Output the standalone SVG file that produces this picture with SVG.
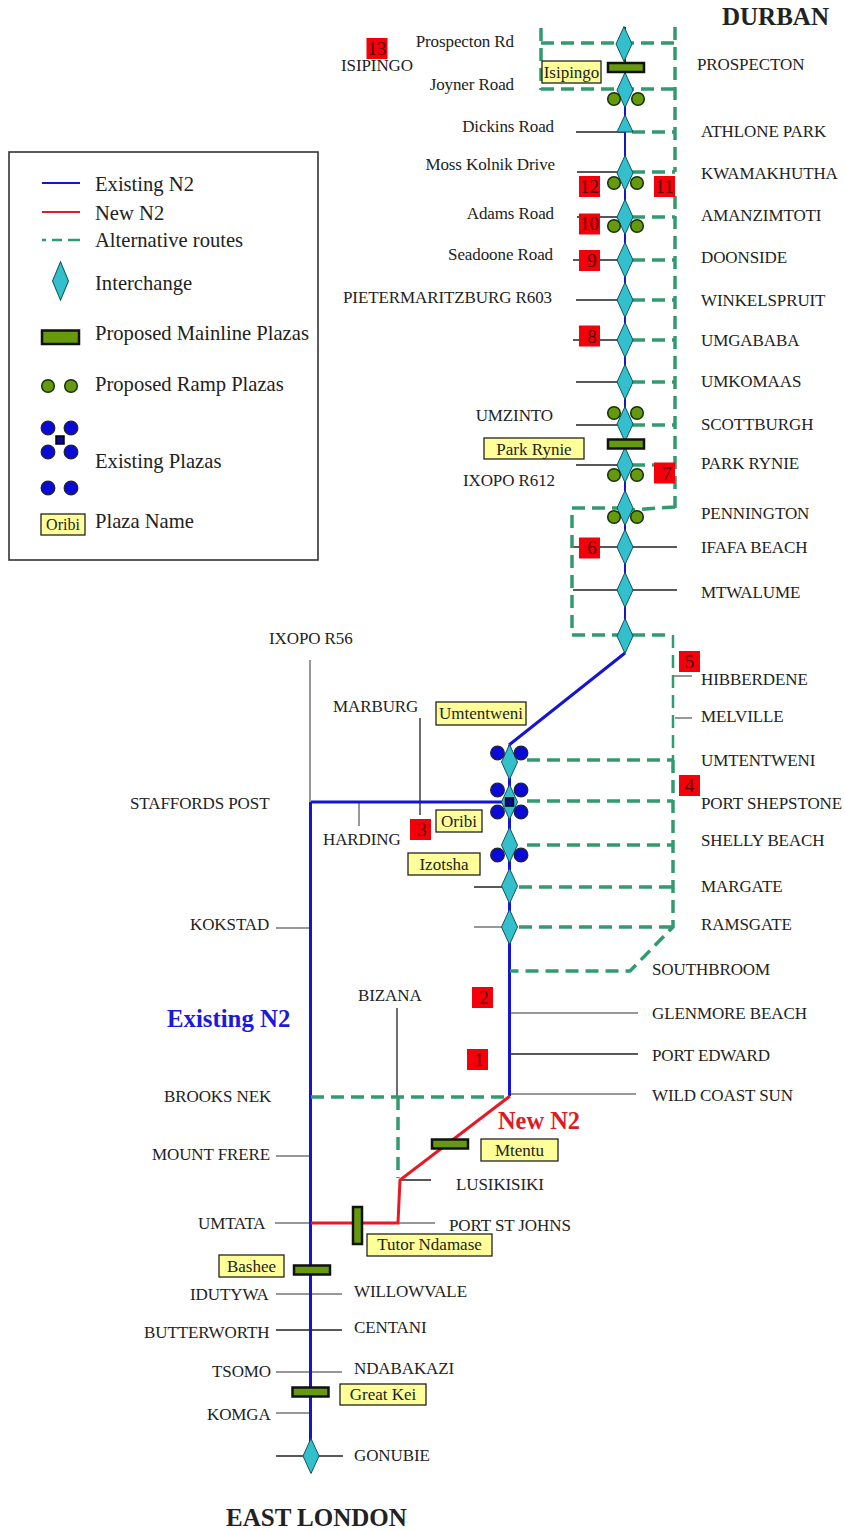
<svg xmlns="http://www.w3.org/2000/svg" width="845" height="1531" viewBox="0 0 845 1531">
<style>
text{font-family:"Liberation Serif","Times New Roman",serif;font-size:17px;fill:#222;letter-spacing:-.1px}
.e{text-anchor:end}
.l{font-size:20.6px;letter-spacing:0}
.n{font-size:17px;fill:#222;text-anchor:middle;letter-spacing:0}
.num{font-size:19px;fill:#500;text-anchor:middle;letter-spacing:0}
.b{font-weight:bold;letter-spacing:0}
.blue{fill:none;stroke:#1515d0;stroke-width:3}
.blueThin{fill:none;stroke:#1515d0;stroke-width:2}
.red{fill:none;stroke:#e51a24;stroke-width:3}
.alt{fill:none;stroke:#339a70;stroke-width:3.500;stroke-dasharray:13 7}
.altThin{fill:none;stroke:#339a70;stroke-width:2.500;stroke-dasharray:13 7}
.lead{fill:none;stroke:#222;stroke-width:1.300}
.leadG{fill:none;stroke:#777;stroke-width:1.500}
.dia{fill:#33c0cc;stroke:#0d5560;stroke-width:1}
.ml{fill:#669a0c;stroke:#111;stroke-width:2.500}
.rp{fill:#669a0c;stroke:#14300a;stroke-width:1.500}
.ep{fill:#0a0ad8;stroke:#223;stroke-width:1.300}
.sq{fill:#0a0a90;stroke:#000;stroke-width:1.500}
.nm{fill:#ffff99;stroke:#222;stroke-width:1.300}
.rb{fill:#f5000a}
</style>
<defs>
<polygon id="d" class="dia" points="0,-17.5 8,0 0,17.5 -8,0"/>
<rect id="mh" class="ml" x="-18" y="-4.5" width="36" height="9"/>
<circle id="r" class="rp" r="6.3"/>
<circle id="c" class="ep" r="6.8"/>
<rect id="rbx" class="rb" x="-10.5" y="-10.5" width="21" height="21"/>
</defs>
<g id="legend">
<rect x="9" y="152" width="309" height="408" fill="#fff" stroke="#333" stroke-width="1.6"/>
<line x1="42" y1="183" x2="80" y2="183" class="blueThin"/>
<line x1="42" y1="212" x2="80" y2="212" stroke="#e51a24" stroke-width="2"/>
<path d="M42 240H46M52 240H62M68 240H80" fill="none" stroke="#339a70" stroke-width="2.500"/>
<use href="#d" transform="translate(60.5 281) scale(1 1.1)"/>
<rect x="42" y="330.500" width="37" height="13.500" class="ml"/>
<use href="#r" x="48" y="386"/><use href="#r" x="71" y="386"/>
<use href="#c" x="48" y="428"/><use href="#c" x="71" y="428"/><use href="#c" x="48" y="452"/><use href="#c" x="71" y="452"/>
<rect x="56" y="436" width="8" height="8" class="sq"/>
<use href="#c" x="48" y="488"/><use href="#c" x="71" y="488"/>
<rect x="41" y="514" width="44" height="21" class="nm"/>
<text x="63" y="530" class="n" style="font-size:16px">Oribi</text>
<text x="95" y="191" class="l">Existing N2</text>
<text x="95" y="220" class="l">New N2</text>
<text x="95" y="247" class="l">Alternative routes</text>
<text x="95" y="290" class="l">Interchange</text>
<text x="95" y="340" class="l">Proposed Mainline Plazas</text>
<text x="95" y="391" class="l">Proposed Ramp Plazas</text>
<text x="95" y="468" class="l">Existing Plazas</text>
<text x="95" y="528" class="l">Plaza Name</text>
</g>
<g id="connectors">
<path class="leadG" d="M310 660V802M359 801V826M474 927H503M276 928H310M511 1013H638M276 1156H310M275 1223H311M398 1223H435M276 1294H342M276 1372H342M276 1413H310M510 1094H636M673 676H692M675 718H692"/>
<path class="lead" d="M576 132H625M577 172H618M577 217H618M573 260H618M576 300H618M573 340H618M576 382H618M576 425H618M576 465H618M573 547H677M573 590H677M474 887H503M420 718V815M511 1054H638M397 1008V1096M400 1180H431M276 1330H342M276 1456H343"/>
<path class="blueThin" d="M625 27V653"/>
<path class="blue" d="M625 653L509 745M509.500 745V1096M311 802H506M310.500 802V1450"/>
<path class="red" d="M510 1096L400 1180L398 1223H311"/>
<path class="alt" d="M541 28V90M541 43H675M541 89H675M675 27V172M632 132H675M632 172H675M675 196V508M632 217H675M632 260H675M632 300H675M632 340H675M632 382H675M632 425H675M632 465H675M675 507L630 510M625 508H572V635H672"/>
<path class="altThin" d="M673 635V760"/>
<path class="alt" d="M673 760V927L630 971H510M527 760H673M527 801H673M527 845H673M519 887H673M519 927H673M311 1097H510M398 1097V1178"/>
</g>
<g id="interchanges">
<use href="#d" x="624" y="44"/><use href="#d" x="625" y="90"/>
<polygon class="dia" points="625,115 633,132 617,132"/>
<use href="#d" x="625" y="173"/><use href="#d" x="625" y="217"/><use href="#d" x="625" y="260"/><use href="#d" x="625" y="300"/><use href="#d" x="625" y="340"/><use href="#d" x="625" y="382"/><use href="#d" x="625" y="424"/><use href="#d" x="625" y="465"/><use href="#d" x="625" y="508"/><use href="#d" x="625" y="547"/><use href="#d" x="625" y="590"/><use href="#d" x="625" y="636"/>
<use href="#d" x="509.500" y="762"/><use href="#d" x="509.500" y="802"/><use href="#d" x="509.500" y="845"/><use href="#d" x="509.500" y="886"/><use href="#d" x="509.500" y="927"/>
<use href="#d" x="311" y="1456"/>
</g>
<g id="plazas">
<use href="#mh" x="626" y="67.500"/><use href="#mh" x="626" y="444"/><use href="#mh" x="450" y="1144"/><use href="#mh" x="312" y="1270"/><use href="#mh" x="310.500" y="1392"/>
<rect x="353" y="1207" width="9" height="37" class="ml"/>
<use href="#r" x="614" y="99"/><use href="#r" x="638" y="99"/>
<use href="#r" x="614" y="183"/><use href="#r" x="637" y="183"/>
<use href="#r" x="614" y="226"/><use href="#r" x="637" y="226"/>
<use href="#r" x="614" y="413"/><use href="#r" x="637" y="413"/>
<use href="#r" x="614" y="475"/><use href="#r" x="637" y="475"/>
<use href="#r" x="614" y="517"/><use href="#r" x="637" y="517"/>
<use href="#c" x="497.500" y="753"/><use href="#c" x="521" y="753"/>
<use href="#c" x="497.500" y="790"/><use href="#c" x="521" y="790"/><use href="#c" x="497.500" y="812"/><use href="#c" x="521" y="812"/>
<rect x="505.500" y="798" width="8" height="8" class="sq"/>
<use href="#c" x="497.500" y="855"/><use href="#c" x="521" y="855"/>
</g>
<g id="plaza-names">
<rect x="542" y="61" width="59" height="22" class="nm"/><text x="571.500" y="78" class="n">Isipingo</text>
<rect x="484" y="438" width="100" height="21" class="nm"/><text x="534" y="455" class="n">Park Rynie</text>
<rect x="436" y="702" width="90" height="23" class="nm"/><text x="481" y="719" class="n">Umtentweni</text>
<rect x="436" y="810" width="46" height="22" class="nm"/><text x="459" y="827" class="n">Oribi</text>
<rect x="408" y="853" width="72" height="22" class="nm"/><text x="444" y="870" class="n">Izotsha</text>
<rect x="481" y="1139" width="77" height="22" class="nm"/><text x="519.500" y="1156" class="n">Mtentu</text>
<rect x="367" y="1234" width="125" height="22" class="nm"/><text x="429.500" y="1250" class="n">Tutor Ndamase</text>
<rect x="219" y="1255" width="65" height="22" class="nm"/><text x="251.500" y="1272" class="n">Bashee</text>
<rect x="340" y="1384" width="86" height="21" class="nm"/><text x="383" y="1400" class="n">Great Kei</text>
</g>
<g id="section-numbers">
<use href="#rbx" x="377" y="48.500"/><text x="377" y="55" class="num">13</text>
<use href="#rbx" x="589.500" y="186.500"/><text x="589.500" y="193" class="num">12</text>
<use href="#rbx" x="664.500" y="186.500"/><text x="664.500" y="193" class="num">11</text>
<use href="#rbx" x="589.500" y="224"/><text x="589.500" y="230" class="num">10</text>
<use href="#rbx" x="589.500" y="260.500"/><text x="592" y="267" class="num">9</text>
<use href="#rbx" x="589.500" y="336"/><text x="592" y="343" class="num">8</text>
<use href="#rbx" x="664.500" y="473"/><text x="667" y="480" class="num">7</text>
<use href="#rbx" x="589.500" y="548"/><text x="592" y="554" class="num">6</text>
<use href="#rbx" x="689.500" y="661.500"/><text x="689.500" y="668" class="num">5</text>
<use href="#rbx" x="689.500" y="785.500"/><text x="689.500" y="792" class="num">4</text>
<use href="#rbx" x="420.500" y="829.500"/><text x="422" y="836" class="num">3</text>
<use href="#rbx" x="482.500" y="997.500"/><text x="484" y="1004" class="num">2</text>
<use href="#rbx" x="477.500" y="1059.500"/><text x="479" y="1066" class="num">1</text>
</g>
<g id="labels">
<text x="722" y="25" class="b" style="font-size:25px">DURBAN</text>
<text x="226" y="1526" class="b" style="font-size:25px">EAST LONDON</text>
<text x="167" y="1027" class="b" style="font-size:24.800px;fill:#1a1ad8">Existing N2</text>
<text x="498" y="1129" class="b" style="font-size:24.400px;fill:#e01a24">New N2</text>
<text x="514" y="47" class="e">Prospecton Rd</text>
<text x="341" y="71">ISIPINGO</text>
<text x="514" y="90" class="e">Joyner Road</text>
<text x="554" y="132" class="e">Dickins Road</text>
<text x="555" y="170" class="e">Moss Kolnik Drive</text>
<text x="554" y="219" class="e">Adams Road</text>
<text x="553" y="260" class="e">Seadoone Road</text>
<text x="552" y="303" class="e">PIETERMARITZBURG R603</text>
<text x="553" y="421" class="e">UMZINTO</text>
<text x="555" y="486" class="e">IXOPO R612</text>
<text x="269" y="644">IXOPO R56</text>
<text x="333" y="712">MARBURG</text>
<text x="130" y="809">STAFFORDS POST</text>
<text x="323" y="845">HARDING</text>
<text x="190" y="930">KOKSTAD</text>
<text x="358" y="1001">BIZANA</text>
<text x="164" y="1102">BROOKS NEK</text>
<text x="152" y="1160">MOUNT FRERE</text>
<text x="456" y="1190">LUSIKISIKI</text>
<text x="449" y="1231">PORT ST JOHNS</text>
<text x="198" y="1229">UMTATA</text>
<text x="190" y="1300">IDUTYWA</text>
<text x="354" y="1297">WILLOWVALE</text>
<text x="144" y="1338">BUTTERWORTH</text>
<text x="354" y="1333">CENTANI</text>
<text x="212" y="1377">TSOMO</text>
<text x="354" y="1374">NDABAKAZI</text>
<text x="207" y="1420">KOMGA</text>
<text x="354" y="1461">GONUBIE</text>
<text x="697" y="70">PROSPECTON</text>
<text x="701" y="137">ATHLONE PARK</text>
<text x="701" y="179">KWAMAKHUTHA</text>
<text x="701" y="221">AMANZIMTOTI</text>
<text x="701" y="263">DOONSIDE</text>
<text x="701" y="306">WINKELSPRUIT</text>
<text x="701" y="346">UMGABABA</text>
<text x="701" y="387">UMKOMAAS</text>
<text x="701" y="430">SCOTTBURGH</text>
<text x="701" y="469">PARK RYNIE</text>
<text x="701" y="519">PENNINGTON</text>
<text x="701" y="553">IFAFA BEACH</text>
<text x="701" y="598">MTWALUME</text>
<text x="701" y="685">HIBBERDENE</text>
<text x="701" y="722">MELVILLE</text>
<text x="701" y="766">UMTENTWENI</text>
<text x="701" y="809">PORT SHEPSTONE</text>
<text x="701" y="846">SHELLY BEACH</text>
<text x="701" y="892">MARGATE</text>
<text x="701" y="930">RAMSGATE</text>
<text x="652" y="975">SOUTHBROOM</text>
<text x="652" y="1019">GLENMORE BEACH</text>
<text x="652" y="1061">PORT EDWARD</text>
<text x="652" y="1101">WILD COAST SUN</text>
</g>
</svg>
